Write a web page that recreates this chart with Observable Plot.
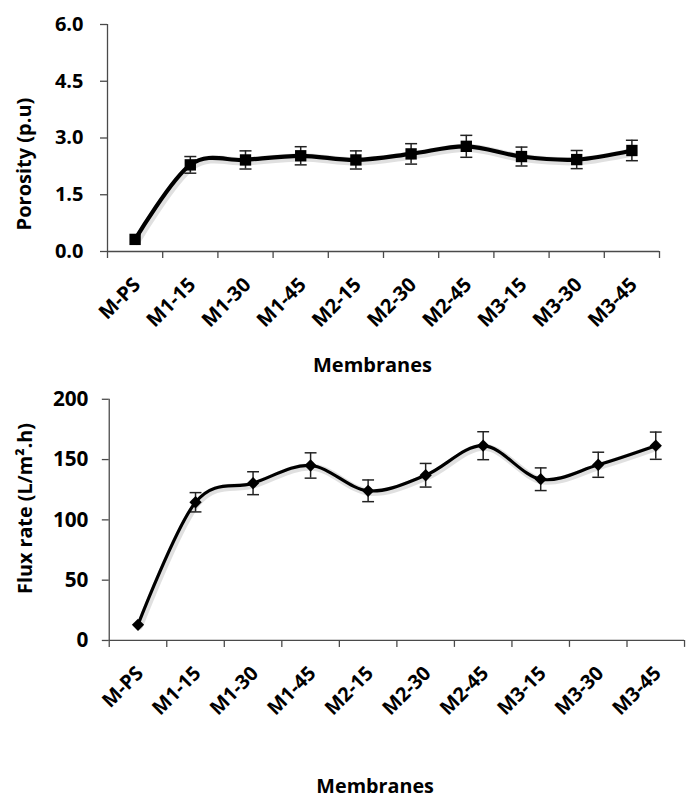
<!DOCTYPE html>
<html><head><meta charset="utf-8">
<script src="https://cdn.jsdelivr.net/npm/d3@7"></script>
<script src="https://cdn.jsdelivr.net/npm/@observablehq/plot@0.6"></script>
<style>
html,body{margin:0;padding:0;background:#fff;overflow:hidden;width:688px;height:802px}
#wrap{position:relative;width:688px;height:802px;overflow:hidden}
#top{position:absolute;left:0;top:0}
#bot{position:absolute;left:0;top:380px}
svg{overflow:visible}
</style></head>
<body><div id="wrap"><div id="top"></div><div id="bot"></div></div>
<script>
// ---- data ----
const categories = ["M-PS","M1-15","M1-30","M1-45","M2-15","M2-30","M2-45","M3-15","M3-30","M3-45"];
const porosity    = [0.32, 2.29, 2.42, 2.53, 2.42, 2.58, 2.78, 2.51, 2.43, 2.67];
const porosityErr = [0,    0.22, 0.24, 0.24, 0.24, 0.27, 0.29, 0.25, 0.24, 0.27];
const flux        = [13, 114.6, 130.4, 145.1, 124.1, 137.0, 161.5, 133.7, 145.7, 161.5];
const fluxErr     = [0,  8.0,   9.5,   10.5,  9.0,   9.8,   11.6,  9.4,   10.4,  11.3];
const porosityTicks = [0, 1.5, 3.0, 4.5, 6.0];
const fluxTicks = [0, 50, 100, 150, 200];
const xTitle = "Membranes";
const porosityTitle = "Porosity (p.u)";
const fluxTitle = "Flux rate (L/m\u00b2.h)";

const FONT = "'Open Sans', sans-serif";
const AXIS = "#4a4a4a";
const capSymbol = {draw(ctx, size){ const w = Math.sqrt(size/Math.PI); ctx.moveTo(-w,0); ctx.lineTo(w,0); }};

function chart(o){
  const rows = categories.map((c,i)=>({name:c, idx:i+0.5, v:o.values[i], e:o.errors[i]}));
  const er = rows.filter(d=>d.e>0);
  const txt = {fontFamily:FONT, fontWeight:"bold", fill:"#000"};
  const p = Plot.plot({
    width:o.width, height:o.height,
    marginLeft:o.ml, marginRight:o.mr, marginTop:o.mt, marginBottom:o.mb,
    style:{fontFamily:FONT, fontWeight:"bold", color:"#000", background:"transparent", overflow:"visible"},
    x:{type:"linear", domain:[0, categories.length], axis:null},
    y:{domain:[o.yTicks[0], o.yTicks[o.yTicks.length-1]], axis:null},
    marks:[
      Plot.ruleY([o.yTicks[0]], {stroke:AXIS, strokeWidth:1.3}),
      Plot.ruleX([0], {stroke:AXIS, strokeWidth:1.3}),
      Plot.axisY({ticks:o.yTicks, tickFormat:o.fmt, label:null, tickSize:7, tickPadding:o.tp, stroke:AXIS, strokeWidth:1.3, fill:"#000", fontSize:o.yfs, fontWeight:"bold", fontFamily:FONT}),
      Plot.axisX({ticks:d3.range(categories.length+1), tickFormat:()=>"", label:null, tickSize:7, stroke:AXIS, strokeWidth:1.3}),
      Plot.text(rows, {x:"idx", frameAnchor:"bottom", text:"name", rotate:-45, textAnchor:"end", lineAnchor:"middle", dx:2, dy:30, fontSize:o.fs, ...txt}),
      Plot.text([o.yTitle], {frameAnchor:"left", rotate:-90, textAnchor:"middle", lineAnchor:"middle", dx:o.ytdx, dy:o.ytdy, fontSize:20, ...txt}),
      Plot.text([xTitle], {frameAnchor:"bottom", textAnchor:"middle", lineAnchor:"middle", dx:o.xtdx, dy:o.xtdy, fontSize:20, ...txt}),
      Plot.ruleX(er, {x:"idx", y1:d=>d.v-d.e, y2:d=>d.v+d.e, stroke:"#222", strokeWidth:1.5}),
      Plot.dot(er, {x:"idx", y:d=>d.v+d.e, symbol:capSymbol, r:6, fill:"none", stroke:"#222", strokeWidth:1.5}),
      Plot.dot(er, {x:"idx", y:d=>d.v-d.e, symbol:capSymbol, r:6, fill:"none", stroke:"#222", strokeWidth:1.5}),
      // soft shadow under the smoothed line
      Plot.line(rows, {x:"idx", y:"v", curve:"cardinal", stroke:"#000", strokeOpacity:0.12, strokeWidth:o.lw+4, dx:1.5, dy:1.5}),
      Plot.line(rows, {x:"idx", y:"v", curve:"cardinal", stroke:"#000", strokeWidth:o.lw}),
      Plot.dot(rows, {x:"idx", y:"v", symbol:o.symbol, r:o.r, fill:"#000", stroke:"none", ariaLabel:"series-marker"})
    ]
  });
  const svg = d3.select(p);
  const id = "sh-" + o.id;
  const f = svg.insert("defs", ":first-child").append("filter").attr("id", id)
    .attr("x","-50%").attr("y","-50%").attr("width","200%").attr("height","200%");
  f.append("feDropShadow").attr("dx",1.5).attr("dy",1.5).attr("stdDeviation",2)
    .attr("flood-color","#000").attr("flood-opacity",0.55);
  svg.selectAll('g[aria-label="series-marker"]').attr("filter", `url(#${id})`);
  return p;
}

document.getElementById("top").append(chart({
  id:"top", values:porosity, errors:porosityErr, yTicks:porosityTicks, fmt:d3.format(".1f"),
  yTitle:porosityTitle, symbol:"square", r:6.4, lw:4.2,
  width:688, height:380, ml:107, mr:29, mt:24, mb:129, tp:17, fs:20, yfs:20,
  ytdx:-82.5, ytdy:26, xtdx:-11, xtdy:114
}));
document.getElementById("bot").append(chart({
  id:"bot", values:flux, errors:fluxErr, yTicks:fluxTicks, fmt:d3.format("d"),
  yTitle:fluxTitle, symbol:"diamond2", r:5.6, lw:3.2,
  width:696, height:422, ml:110, mr:4, mt:19, mb:159, tp:14, fs:20, yfs:21,
  ytdx:-84.5, ytdy:-11.5, xtdx:-22, xtdy:148
}));
</script>
</body></html>
